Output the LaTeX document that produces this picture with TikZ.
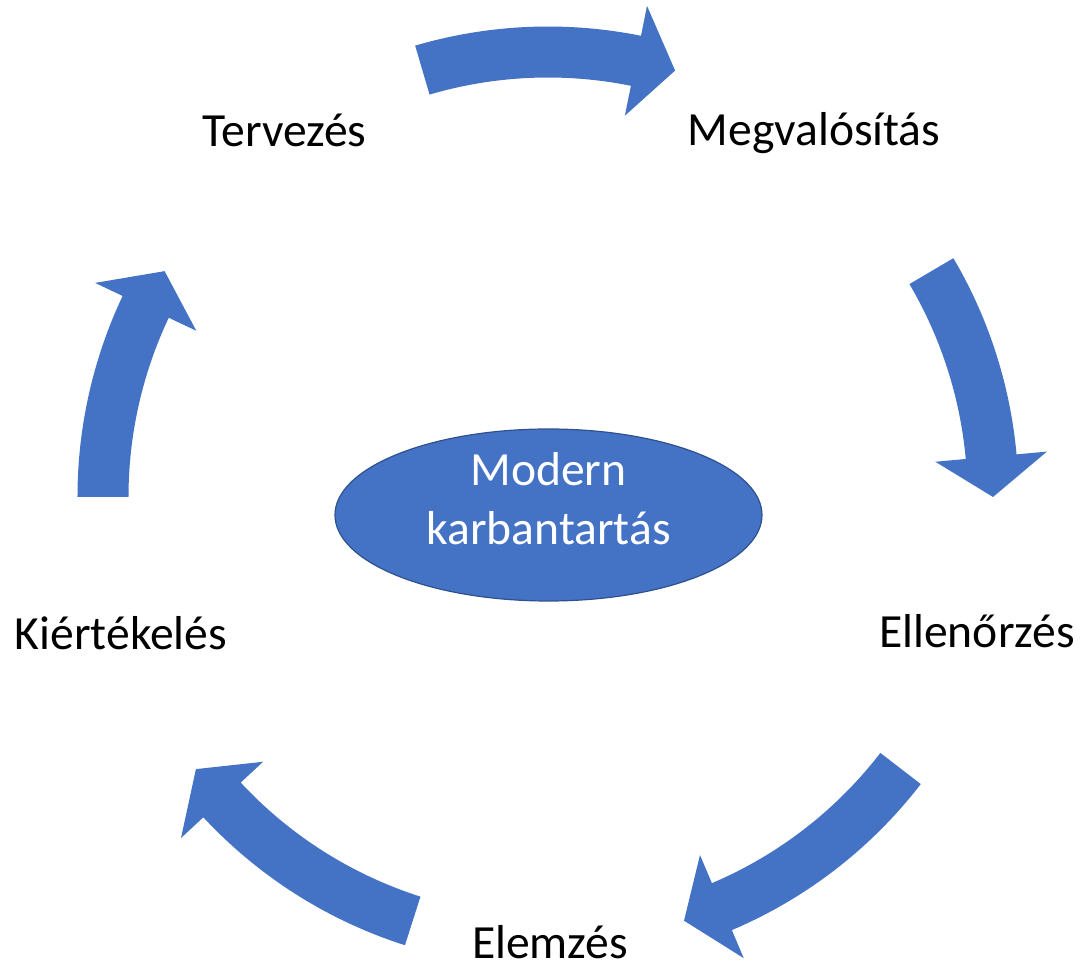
\documentclass[tikz,border=0pt]{standalone}
\usepackage{fontspec}
\setmainfont{Carlito}
\usepackage{tikz}
\usetikzlibrary{shapes.geometric}
\definecolor{cycleblue}{HTML}{4472C4}
\definecolor{cycleedge}{HTML}{2F528F}

\begin{document}
\begin{tikzpicture}[x=1pt, y=1pt, inner sep=0pt,
  stage/.style={anchor=base, font=\fontsize{47.6pt}{57pt}\selectfont},
  hubtext/.style={anchor=base, text=white, font=\fontsize{47.6pt}{57pt}\selectfont},
  blockarrow/.style={fill=cycleblue}]
\useasboundingbox (-548,-471) rectangle (533,497);
\foreach \tail/\tip in {106.4/73.4, 30.5/0, -37.6/-72.2, -107.7/-142.3, 180/149.5} {
  \pgfmathsetmacro{\hb}{\tip+5.2}
  \fill[blockarrow] (\tail:470.5) arc[start angle=\tail, end angle=\hb, radius=470.5]
    -- (\hb:501) -- (\tip:445) -- (\hb:389) -- (\hb:419.5)
    arc[start angle=\hb, end angle=\tail, radius=419.5] -- cycle;
}
\node (hub) at (0.5,-18) [ellipse, minimum width=427, minimum height=172, fill=cycleblue, draw=cycleedge, line width=1.2pt] {};
\node (hubtop) at (0.5,11.3) [hubtext] {Modern};
\node (hubbottom) at (0.5,-48) [hubtext] {karbantartás};
\node (plan) at (-263.5,350.3) [stage] {Tervezés};
\node (do) at (266,351) [stage] {Megvalósítás};
\node (check) at (429,-151) [stage] {Ellenőrzés};
\node (analyse) at (2,-461) [stage] {Elemzés};
\node (review) at (-427,-153) [stage] {Kiértékelés};
\end{tikzpicture}
\end{document}
